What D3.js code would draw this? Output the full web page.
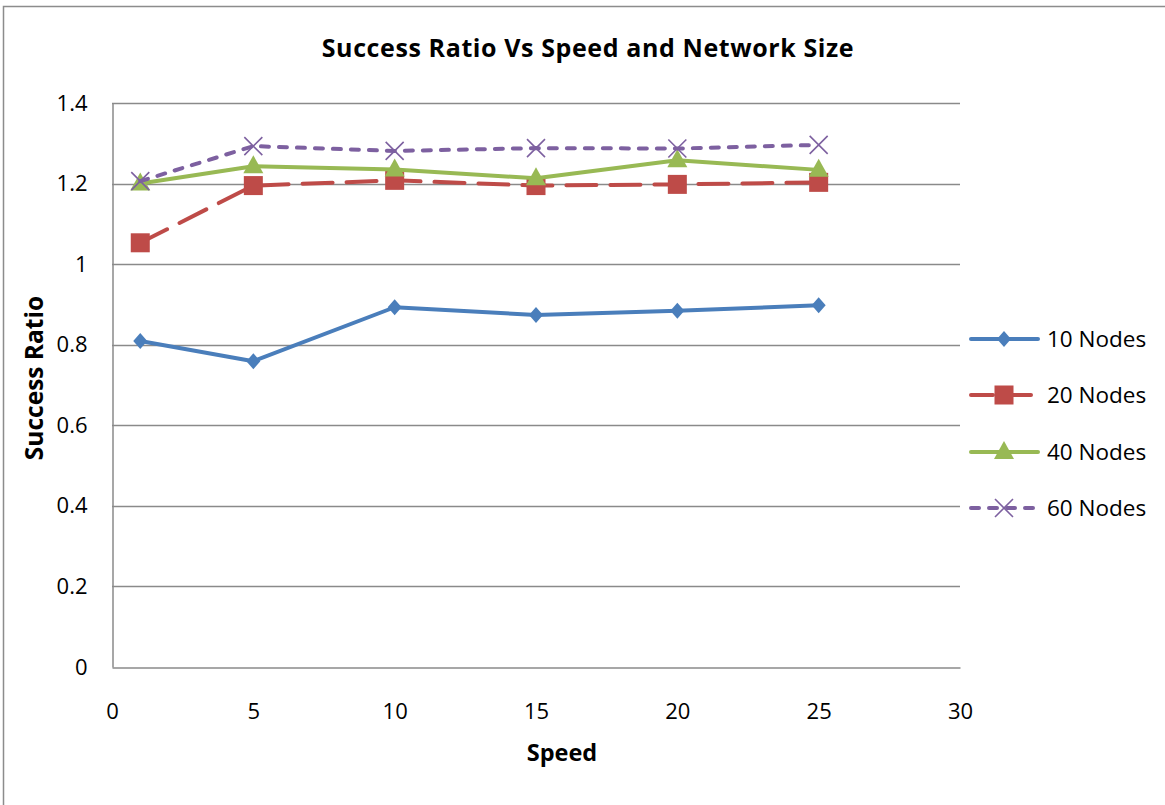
<!DOCTYPE html>
<html>
<head>
<meta charset="utf-8">
<script src="https://cdn.jsdelivr.net/npm/d3@7"></script>
<style>
  html, body { margin: 0; padding: 0; background: #fff; }
  svg { display: block; }
  text { font-family: "Open Sans", "Noto Sans", sans-serif; fill: #000; }
</style>
</head>
<body>
<svg id="chart" width="1165" height="805"></svg>
<script>
// Speeds on the x axis
const speeds = [1, 5, 10, 15, 20, 25];

// Success ratio per network size
const nodes10 = [0.809, 0.759, 0.893, 0.874, 0.884, 0.898];
const nodes20 = [1.053, 1.195, 1.208, 1.195, 1.198, 1.203];
const nodes40 = [1.200, 1.243, 1.235, 1.213, 1.258, 1.234];
const nodes60 = [1.206, 1.293, 1.281, 1.288, 1.287, 1.296];

const seriesNames = ["10 Nodes", "20 Nodes", "40 Nodes", "60 Nodes"];
const xTicks = [0, 5, 10, 15, 20, 25, 30];
const yTicks = [0, 0.2, 0.4, 0.6, 0.8, 1, 1.2, 1.4];

const svg = d3.select("#chart");

const plot = { left: 112, right: 960, top: 103, bottom: 667 };
const x = d3.scaleLinear().domain([0, 30]).range([plot.left, plot.right]);
const y = d3.scaleLinear().domain([0, 1.4]).range([plot.bottom, plot.top]);

// Outer chart frame
svg.append("rect")
  .attr("x", 3.5).attr("y", 6.5)
  .attr("width", 1200).attr("height", 1000)
  .attr("fill", "none").attr("stroke", "#8c8c8c").attr("stroke-width", 1.5);

// Title
svg.append("text")
  .attr("x", 588).attr("y", 57)
  .attr("text-anchor", "middle")
  .style("font-size", "25px").style("font-weight", "bold")
  .style("letter-spacing", "0.6px")
  .text("Success Ratio Vs Speed and Network Size");

// Horizontal gridlines
svg.append("g")
  .selectAll("line")
  .data(yTicks.filter(d => d > 0))
  .join("line")
  .attr("x1", plot.left).attr("x2", plot.right)
  .attr("y1", d => Math.round(y(d)) + 0.5).attr("y2", d => Math.round(y(d)) + 0.5)
  .attr("stroke", "#8a8a8a").attr("stroke-width", 1.5);

// Axes
const xAxis = svg.append("g")
  .attr("transform", `translate(0,${plot.bottom + 0.5})`)
  .call(d3.axisBottom(x).tickValues(xTicks).tickSize(0).tickPadding(36).tickFormat(d3.format("d")));
const yAxis = svg.append("g")
  .attr("transform", `translate(${plot.left + 0.5},0)`)
  .call(d3.axisLeft(y).tickValues(yTicks).tickSize(0).tickPadding(25).tickFormat(d => d3.format("")(d)));

[xAxis, yAxis].forEach(a => {
  a.select(".domain").attr("stroke", "#8a8a8a").attr("stroke-width", 1.5);
  a.selectAll("text").style("font-size", "22px").style("font-family", "\"Open Sans\", sans-serif").attr("fill", "#000");
});

// Axis titles
svg.append("text")
  .attr("x", 562).attr("y", 761)
  .attr("text-anchor", "middle")
  .style("font-size", "23.5px").style("font-weight", "bold")
  .text("Speed");
svg.append("text")
  .attr("transform", "translate(43,378) rotate(-90)")
  .attr("text-anchor", "middle")
  .style("font-size", "24.5px").style("font-weight", "bold")
  .text("Success Ratio");

// Series definitions
const series = [
  { name: seriesNames[0], values: nodes10, color: "#4A7EBB", dash: null, marker: "diamond" },
  { name: seriesNames[1], values: nodes20, color: "#BE4B48", dash: "30,14", marker: "square" },
  { name: seriesNames[2], values: nodes40, color: "#98B954", dash: null, marker: "triangle" },
  { name: seriesNames[3], values: nodes60, color: "#7D60A0", dash: "8,10", marker: "x" }
];

const line = d3.line().x(d => x(d[0])).y(d => y(d[1]));

function drawMarker(g, type, cx, cy, color) {
  if (type === "diamond") {
    g.append("path")
      .attr("d", `M${cx},${cy - 8}L${cx + 7},${cy}L${cx},${cy + 8}L${cx - 7},${cy}Z`)
      .attr("fill", color);
  } else if (type === "square") {
    g.append("rect")
      .attr("x", cx - 9.5).attr("y", cy - 9.5).attr("width", 19).attr("height", 19)
      .attr("fill", color);
  } else if (type === "triangle") {
    g.append("path")
      .attr("d", `M${cx},${cy - 11}L${cx + 10},${cy + 7}L${cx - 10},${cy + 7}Z`)
      .attr("fill", color);
  } else if (type === "x") {
    g.append("path")
      .attr("d", `M${cx - 9},${cy - 9}L${cx + 9},${cy + 9}M${cx - 9},${cy + 9}L${cx + 9},${cy - 9}`)
      .attr("stroke", color).attr("stroke-width", 1.6).attr("fill", "none");
  }
}

series.forEach(s => {
  const g = svg.append("g");
  const pts = speeds.map((sp, i) => [sp, s.values[i]]);
  g.append("path")
    .datum(pts)
    .attr("d", line)
    .attr("fill", "none")
    .attr("stroke", s.color)
    .attr("stroke-width", 4)
    .attr("stroke-linecap", "round")
    .attr("stroke-linejoin", "round")
    .attr("stroke-dasharray", s.dash);
  pts.forEach(p => drawMarker(g, s.marker, x(p[0]), y(p[1]), s.color));
});

// Legend
const legendY = [339, 395, 452, 508];
series.forEach((s, i) => {
  const g = svg.append("g");
  const ly = legendY[i];
  g.append("line")
    .attr("x1", 971).attr("x2", 1038)
    .attr("y1", ly).attr("y2", ly)
    .attr("stroke", s.color).attr("stroke-width", 4)
    .attr("stroke-linecap", "round")
    .attr("stroke-dasharray", s.dash === "30,14" ? "22,16" : (s.dash ? "8,10" : null));
  drawMarker(g, s.marker, 1004, ly, s.color);
  g.append("text")
    .attr("x", 1047).attr("y", ly + 8)
    .style("font-size", "22.5px")
    .text(s.name);
});
</script>
</body>
</html>
